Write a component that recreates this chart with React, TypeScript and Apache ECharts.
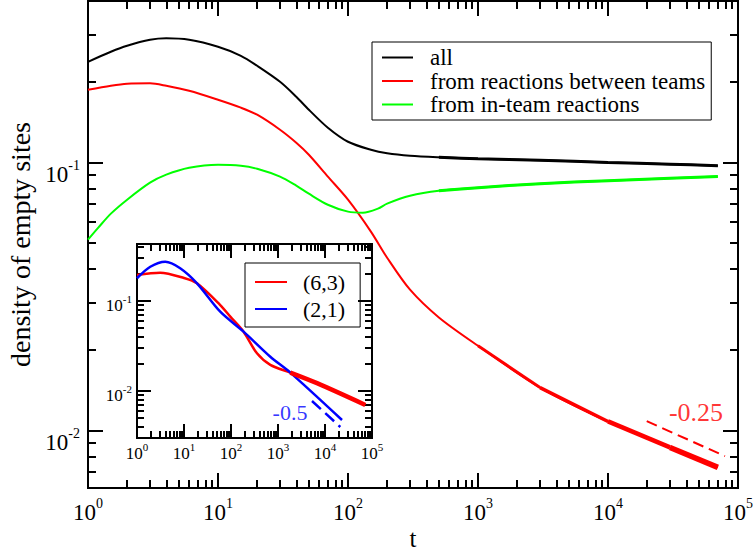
import React, { useEffect, useRef } from "react";
import * as echarts from "echarts";

const FONT = "Liberation Serif";

// ---------- main panel data (t, density) ----------
const allT = [1, 1.5, 2, 3, 4, 6, 10, 15, 20, 30, 40, 50, 70, 100, 150, 200, 300, 500, 1000, 3000, 10000, 30000, 70000];
const allV = [0.2372, 0.2586, 0.2723, 0.2866, 0.2903, 0.2866, 0.2699, 0.2498, 0.2293, 0.1999, 0.1758, 0.1572, 0.1347, 0.1194, 0.1115, 0.1082, 0.1059, 0.1045, 0.1032, 0.1019, 0.1, 0.0985, 0.0972];

const betweenT = [1, 1.5, 2, 3, 4, 6, 10, 15, 20, 30, 40, 50, 70, 100, 150, 200, 300, 500, 1000, 3000, 10000, 30000, 70000];
const betweenV = [0.1866, 0.1931, 0.1965, 0.1973, 0.1931, 0.185, 0.1713, 0.16, 0.1506, 0.1324, 0.1184, 0.1068, 0.0885, 0.0726, 0.0552, 0.0441, 0.0335, 0.0264, 0.0207, 0.01446, 0.0108, 0.00864, 0.00728];

const inTeamT = [1, 1.2, 1.5, 2, 3, 4, 6, 10, 15, 20, 30, 40, 50, 70, 100, 130, 170, 200, 300, 500, 1000, 3000, 10000, 30000, 70000];
const inTeamV = [0.0515, 0.0571, 0.0644, 0.0726, 0.084, 0.09, 0.0955, 0.098, 0.0972, 0.0947, 0.0885, 0.0819, 0.0764, 0.0695, 0.0655, 0.0649, 0.0672, 0.0702, 0.0751, 0.0784, 0.0805, 0.0833, 0.0855, 0.0873, 0.0885];

const guide025T = [19860, 79400];
const guide025V = [0.01083, 0.00802];
const guide025Label = { t: 47500, v: 0.01167, text: "-0.25" };

// ---------- inset data ----------
const r63T = [1, 3.1, 10, 18.9, 59, 96.6, 185, 357, 686, 1827, 6760, 72000];
const r63V = [0.194, 0.206, 0.18, 0.157, 0.09, 0.067, 0.0456, 0.0262, 0.0195, 0.016, 0.0122, 0.00699];

const r21T = [1, 1.92, 4, 8.3, 18.9, 59, 185, 686, 1827, 23000];
const r21V = [0.179, 0.24, 0.273, 0.231, 0.157, 0.076, 0.0456, 0.024, 0.016, 0.00476];

const guide05T = [5290, 21200];
const guide05V = [0.00774, 0.00398];
const guide05Label = { t: 1800, v: 0.0057, text: "-0.5" };

// ---------- axis ranges ----------
const MAIN_T = [1, 1e5];
const MAIN_V = [0.0061, 0.4];
const INSET_T = [1, 1e5];
const INSET_V = [0.003, 0.43];

const L = (v: number) => Math.log10(v);
const pairs = (t: number[], v: number[], from = 0, to = Infinity) =>
  t.map((x, i) => [x, v[i]] as [number, number]).filter(([x]) => x >= from && x <= to).map(([x, y]) => [L(x), L(y)]);

function majors(min: number, max: number) {
  const r: number[] = [];
  for (let k = Math.ceil(min - 1e-9); k <= max + 1e-9; k++) r.push(k);
  return r;
}
function minors(min: number, max: number) {
  const r: number[] = [];
  for (let k = Math.floor(min) - 1; k <= Math.ceil(max); k++)
    for (let m = 2; m <= 9; m++) {
      const v = k + Math.log10(m);
      if (v > min + 1e-9 && v < max - 1e-9) r.push(v);
    }
  return r;
}

function buildAxes(gridIndex: number, min: number, max: number, posA: string, posB: string, majorLen: number, minorLen: number, label: any, extra: any) {
  const maj = majors(min, max);
  const mnr = minors(min, max);
  const mk = (pos: string, vals: number[], len: number, lab: any, ext: any) => ({
    type: "value",
    gridIndex,
    min,
    max,
    position: pos,
    splitLine: { show: false },
    axisLine: { show: true, onZero: false, lineStyle: { color: "#000", width: 2 } },
    axisTick: { show: true, inside: true, length: len, customValues: vals, lineStyle: { color: "#000", width: 2 } },
    axisLabel: lab ? { ...lab, customValues: maj } : { show: false },
    ...(ext || {}),
  });
  return [mk(posA, maj, majorLen, label, extra), mk(posA, mnr, minorLen, null, null), mk(posB, maj, majorLen, null, null), mk(posB, mnr, minorLen, null, null)];
}

const pow = (v: number) => `{b|10}{s|${Math.round(v)}}`;
const richMain = {
  b: { fontSize: 23, fontFamily: FONT, color: "#000", verticalAlign: "bottom" },
  s: { fontSize: 14, fontFamily: FONT, color: "#000", verticalAlign: "bottom", padding: [0, 0, 14, 0] },
};
const richInset = {
  b: { fontSize: 17, fontFamily: FONT, color: "#000", verticalAlign: "bottom" },
  s: { fontSize: 11, fontFamily: FONT, color: "#000", verticalAlign: "bottom", padding: [0, 0, 10, 0] },
};

export default function App() {
  const ref = useRef<HTMLDivElement>(null);
  useEffect(() => {
    if (!ref.current) return;
    const chart = echarts.init(ref.current, undefined, { renderer: "svg" });

    const mainX = buildAxes(0, L(MAIN_T[0]), L(MAIN_T[1]), "bottom", "top", 15, 8,
      { show: true, margin: 8, formatter: pow, rich: richMain },
      { name: "t", nameLocation: "middle", nameGap: 41, nameMoveOverlap: false, nameTextStyle: { fontSize: 25, lineHeight: 18, fontFamily: FONT, color: "#000" } });
    const insetX = buildAxes(1, L(INSET_T[0]), L(INSET_T[1]), "bottom", "top", 14, 7,
      { show: true, margin: 3, formatter: pow, rich: richInset }, null);
    const mainY = buildAxes(0, L(MAIN_V[0]), L(MAIN_V[1]), "left", "right", 15, 8,
      { show: true, margin: 8, formatter: pow, rich: richMain, padding: [20, 0, 0, 0] },
      { name: "density of empty sites", nameLocation: "middle", nameRotate: 90, nameGap: 50, nameTextStyle: { fontSize: 28, fontFamily: FONT, color: "#000" } });
    const insetY = buildAxes(1, L(INSET_V[0]), L(INSET_V[1]), "left", "right", 14, 7,
      { show: true, margin: 5, formatter: pow, rich: richInset, padding: [6, 0, 0, 0] }, null);

    const line = (name: string, data: number[][], color: string, width: number, axis: number, extra: any = {}) => ({
      type: "line",
      name,
      data,
      xAxisIndex: axis,
      yAxisIndex: axis,
      showSymbol: false,
      symbol: "none",
      smooth: 0.3,
      color,
      lineStyle: { color, width },
      silent: true,
      ...extra,
    });
    const note = (name: string, p: { t: number; v: number; text: string }, color: string, size: number, axis: number) => ({
      type: "scatter",
      name,
      data: [[L(p.t), L(p.v)]],
      xAxisIndex: axis,
      yAxisIndex: axis,
      symbolSize: 1,
      itemStyle: { color: "rgba(0,0,0,0)" },
      silent: true,
      label: {
        show: true,
        position: "inside",
        formatter: `{a|${p.text}}`,
        rich: { a: { color, fontSize: size, fontFamily: FONT } },
      },
    });
    const legendText = (size: number, padLeft: number) => ({
      fontFamily: FONT,
      fontSize: size,
      color: "#000",
      padding: [0, 0, 0, padLeft],
      rich: { a: { fontFamily: FONT, fontSize: size, color: "#000" } },
    });

    chart.setOption({
      animation: false,
      textStyle: { fontFamily: FONT },
      grid: [
        { left: 88, top: 1, width: 650, height: 487, outerBoundsMode: "none", containLabel: false },
        { left: 137, top: 244, width: 235, height: 194, outerBoundsMode: "none", containLabel: false },
      ],
      xAxis: [...mainX, ...insetX],
      yAxis: [...mainY, ...insetY],
      legend: [
        {
          left: 372,
          top: 42,
          orient: "vertical",
          data: ["all", "from reactions between teams", "from in-team reactions"],
          formatter: (n: string) => `{a|${n}}`,
          icon: "rect",
          itemWidth: 31,
          itemHeight: 2,
          itemGap: 0.5,
          borderColor: "#000",
          borderWidth: 1,
          padding: [4, 6, 4, 10],
          selectedMode: false,
          textStyle: legendText(23, 12),
        },
        {
          left: 245,
          top: 263,
          orient: "vertical",
          data: ["(6,3)", "(2,1)"],
          formatter: (n: string) => `{a|${n}}`,
          icon: "rect",
          itemWidth: 32,
          itemHeight: 2,
          itemGap: 5,
          borderColor: "#000",
          borderWidth: 1,
          padding: [8, 15, 7, 10],
          selectedMode: false,
          textStyle: legendText(22, 11),
        },
      ],
      series: [
        line("all", pairs(allT, allV), "#000000", 2, 0),
        line("from reactions between teams", pairs(betweenT, betweenV), "#ff0000", 2, 0),
        line("from in-team reactions", pairs(inTeamT, inTeamV), "#00ff00", 2, 0),
        line("all-noise", pairs(allT, allV, 500), "#000000", 3, 0),
        line("in-team-noise", pairs(inTeamT, inTeamV, 500), "#00ff00", 3, 0),
        line("between-noise-a", pairs(betweenT, betweenV, 1000, 3000), "#ff0000", 2.8, 0),
        line("between-noise-b", pairs(betweenT, betweenV, 3000, 10000), "#ff0000", 3.6, 0),
        line("between-noise-c", pairs(betweenT, betweenV, 10000, 30000), "#ff0000", 4.6, 0),
        line("between-noise-d", pairs(betweenT, betweenV, 30000), "#ff0000", 5.6, 0),
        line("slope-0.25", pairs(guide025T, guide025V), "#ff0000", 2, 0, { smooth: false, lineStyle: { color: "#ff0000", width: 2, type: [11, 6] } }),
        note("label-0.25", guide025Label, "#ff0000", 26, 0),
        line("(6,3)", pairs(r63T, r63V), "#ff0000", 2.5, 4),
        line("(2,1)", pairs(r21T, r21V), "#0000ff", 2.5, 4),
        line("r63-noise", pairs(r63T, r63V, 1827), "#ff0000", 4.5, 4),
        line("slope-0.5", pairs(guide05T, guide05V), "#0000ff", 2.5, 4, { smooth: false, lineStyle: { color: "#0000ff", width: 2.5, type: [12, 6] } }),
        note("label-0.5", guide05Label, "#0000ff", 22, 4),
      ],
    });
    return () => chart.dispose();
  }, []);
  return <div ref={ref} style={{ position: "fixed", left: 0, top: 0, width: 753, height: 550, background: "#fff" }} />;
}
